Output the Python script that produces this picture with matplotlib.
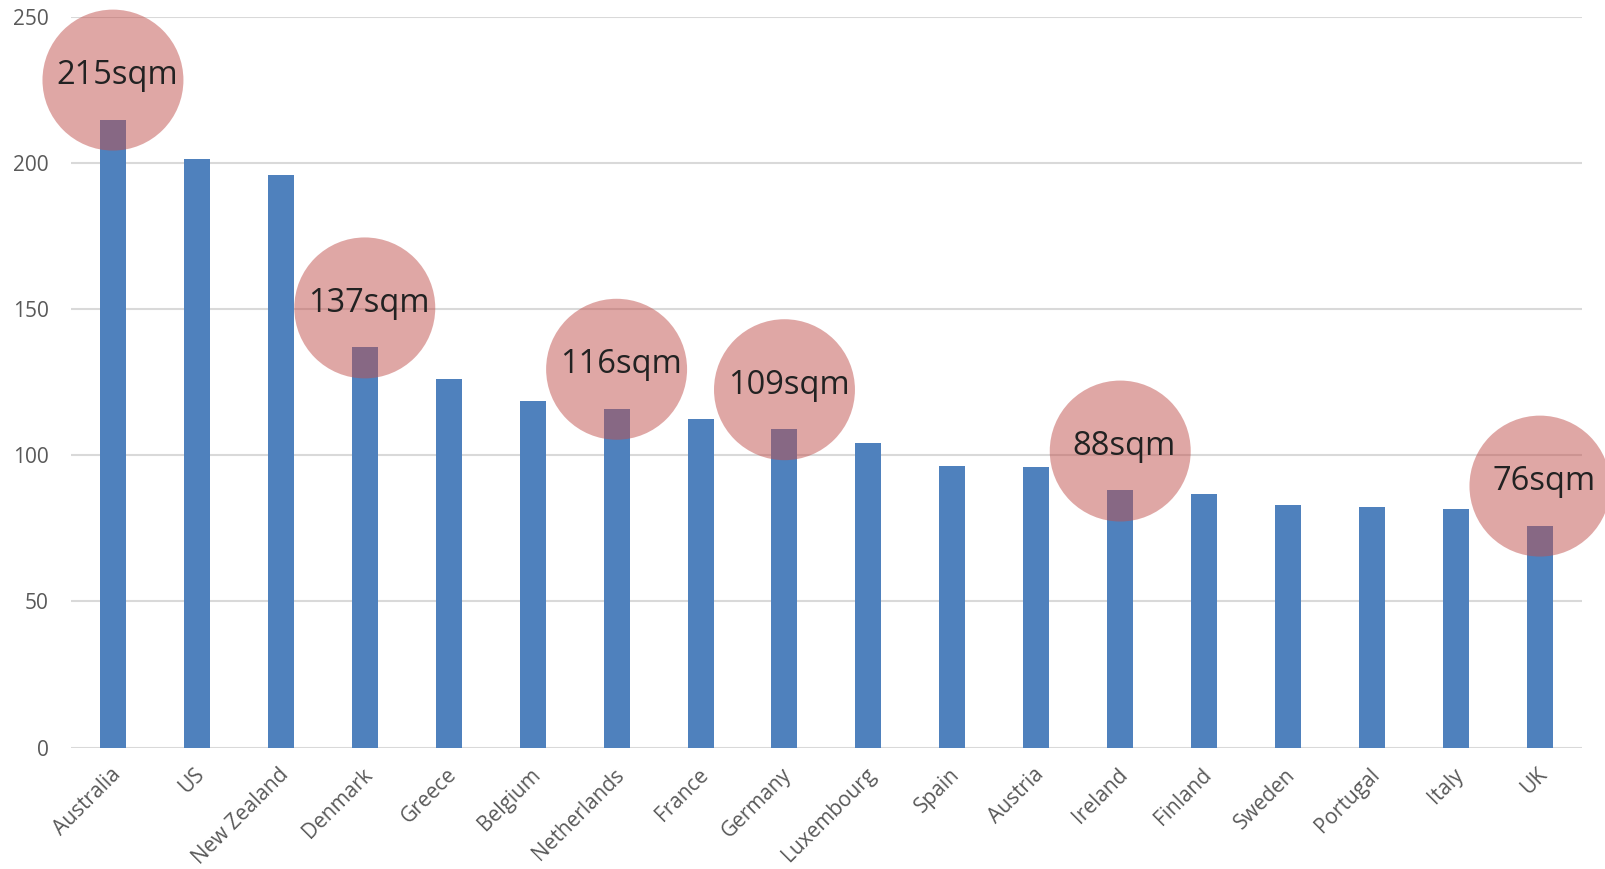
import numpy as np
import matplotlib.pyplot as plt
from matplotlib.transforms import ScaledTranslation

countries = ["Australia", "US", "New Zealand", "Denmark", "Greece", "Belgium",
             "Netherlands", "France", "Germany", "Luxembourg", "Spain", "Austria",
             "Ireland", "Finland", "Sweden", "Portugal", "Italy", "UK"]
size_sqm = [215, 201.5, 196, 137, 126.3, 118.8, 116, 112.5, 109, 104.1,
            96.4, 96, 88, 86.9, 83, 82.3, 81.6, 76]
highlighted = ["Australia", "Denmark", "Netherlands", "Germany", "Ireland", "UK"]

plt.rcParams['font.family'] = ['Open Sans', 'DejaVu Sans']

fig = plt.figure(figsize=(16.06, 8.69), dpi=100)
ax = fig.add_axes([0.0442, 0.1398, 0.9408, 0.8403])

x = np.arange(len(countries))
ax.bar(x, size_sqm, width=0.31, color="#4F81BD", zorder=2)

# red bubbles over the picked countries, sitting a little above each bar top
lift = 13.5
for name in highlighted:
    i = countries.index(name)
    v = size_sqm[i]
    ax.scatter(i, v + lift, s=10300, color="#C0504D", alpha=0.5,
               edgecolors="none", zorder=3, clip_on=False)
    ax.text(i + 0.05, v + lift + 1.5, f"{v}sqm", ha="center", va="center",
            fontsize=23.5, color="#222222", zorder=4)

ax.set_xlim(-0.5, len(countries) - 0.5)
ax.set_ylim(0, 250)
ax.set_yticks([0, 50, 100, 150, 200, 250])
ax.grid(axis="y", color="#D9D9D9", lw=1.5, zorder=0)
ax.set_axisbelow(True)
for s in ax.spines.values():
    s.set_visible(False)

ax.set_xticks(x)
ax.set_xticklabels(countries, rotation=45, ha="right", rotation_mode="anchor")
ax.tick_params(axis="x", length=0, pad=12, labelsize=15, labelcolor="#595959")
ax.tick_params(axis="y", length=0, pad=16, labelsize=15, labelcolor="#595959")
shift = ScaledTranslation(-0.03, 0, fig.dpi_scale_trans)
for lbl in ax.get_xticklabels():
    lbl.set_transform(lbl.get_transform() + shift)

fig.savefig("out.png", dpi=100)
